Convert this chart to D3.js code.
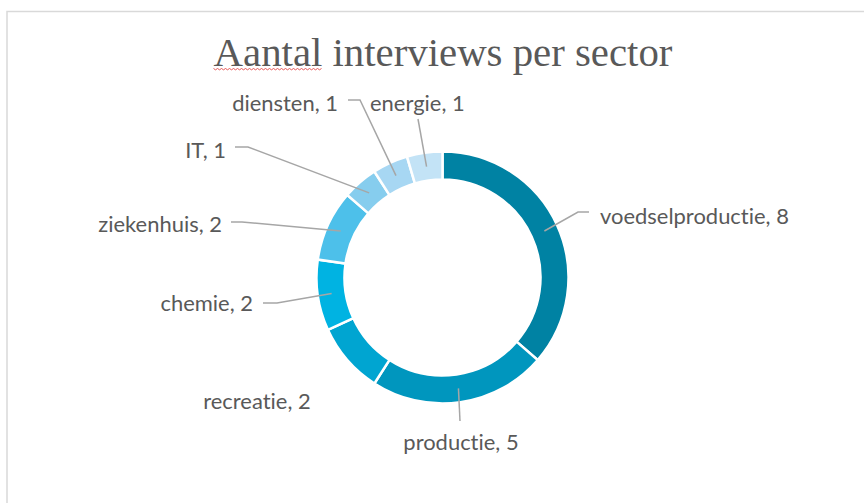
<!DOCTYPE html>
<html>
<head>
<meta charset="utf-8">
<script src="https://cdn.jsdelivr.net/npm/d3@7"></script>
<style>
  html, body { margin: 0; padding: 0; background: #fff; }
  svg { display: block; }
  text { font-variant-ligatures: none; font-feature-settings: "liga" 0, "clig" 0; }
</style>
</head>
<body>
<svg id="chart" width="864" height="503"></svg>
<script>
// Sectors, clockwise from 12 o'clock
const sectors = ["voedselproductie", "productie", "recreatie", "chemie", "ziekenhuis", "IT", "diensten", "energie"];
const interviews = [8, 5, 2, 2, 2, 1, 1, 1];
const sliceColors = ["#0082A3", "#0096BE", "#00A5D1", "#00B3E2", "#4DC0EA", "#86CDEE", "#A7D7F3", "#C3E3F6"];
const title = "Aantal interviews per sector";

// Label placement: anchor point, text anchor, leader elbow points (null = no leader)
const labelPos = [
  { x: 600, y: 216, anchor: "start",  leader: [[578, 212], [589, 212]] },
  { x: 461, y: 442, anchor: "middle", leader: [[460, 421]] },
  { x: 257, y: 401, anchor: "middle", leader: null },
  { x: 253, y: 303, anchor: "end",    leader: [[277, 303], [263, 303]] },
  { x: 222, y: 224, anchor: "end",    leader: [[242, 222], [231, 222]] },
  { x: 226, y: 150, anchor: "end",    leader: [[248, 147], [235, 147]] },
  { x: 338, y: 103, anchor: "end",    leader: [[360, 100], [348, 100]] },
  { x: 370, y: 103, anchor: "start",  leader: [[418, 119]] }
];

const svg = d3.select("#chart");
const W = 864, H = 503;

// chart area frame
svg.append("rect")
  .attr("x", 7).attr("y", 11.5)
  .attr("width", W).attr("height", H)
  .attr("fill", "#fff")
  .attr("stroke", "#D9D9D9")
  .attr("stroke-width", 1.5);

// title
const titleFont = "'Liberation Serif', 'DejaVu Serif', serif";
const titleText = svg.append("text")
  .attr("x", 443).attr("y", 66)
  .attr("text-anchor", "middle")
  .attr("font-family", titleFont)
  .attr("font-size", 34)
  .attr("fill", "#595959")
  .text(title);
// fit title width
const tw = titleText.node().getComputedTextLength();
const titleSize = 34 * 459 / tw;
titleText.attr("font-size", titleSize);

// spell-check squiggle under the first word
const firstWord = svg.append("text")
  .attr("font-family", titleFont)
  .attr("font-size", titleSize)
  .attr("visibility", "hidden")
  .text("Aantal");
const fw = firstWord.node().getComputedTextLength();
firstWord.remove();
const sqX0 = 443 - 459 / 2, sqY = 68.5;
let sq = "M" + sqX0 + "," + sqY;
for (let x = sqX0 + 2, i = 0; x <= sqX0 + fw; x += 2, i++) sq += "L" + x + "," + (sqY + (i % 2 ? 0 : 1.3));
svg.append("path").attr("d", sq).attr("fill", "none").attr("stroke", "#E03C3C").attr("stroke-width", 1).attr("opacity", 0.85);

// donut
const cx = 442.5, cy = 277.5, rOuter = 126, rInner = 98;
const g = svg.append("g").attr("transform", `translate(${cx},${cy})`);

const data = sectors.map((s, i) => ({ sector: s, value: interviews[i], color: sliceColors[i], pos: labelPos[i] }));
const pie = d3.pie().value(d => d.value).sort(null);
const arc = d3.arc().innerRadius(rInner).outerRadius(rOuter);
const midArc = d3.arc().innerRadius((rInner + rOuter) / 2).outerRadius((rInner + rOuter) / 2);
const arcs = pie(data);

g.selectAll("path.slice")
  .data(arcs)
  .join("path")
  .attr("class", "slice")
  .attr("d", arc)
  .attr("fill", d => d.data.color)
  .attr("stroke", "#fff")
  .attr("stroke-width", 2.5)
  .attr("stroke-linejoin", "miter");

// leader lines
const line = d3.line();
svg.selectAll("path.leader")
  .data(arcs.filter(d => d.data.pos.leader))
  .join("path")
  .attr("class", "leader")
  .attr("d", d => {
    const c = midArc.centroid(d);
    return line([[cx + c[0], cy + c[1]], ...d.data.pos.leader]);
  })
  .attr("fill", "none")
  .attr("stroke", "#A6A6A6")
  .attr("stroke-width", 1.5);

// data labels
const labelFont = "'Lato', 'Open Sans', sans-serif";
const labels = svg.selectAll("text.lbl")
  .data(arcs)
  .join("text")
  .attr("class", "lbl")
  .attr("x", d => d.data.pos.x)
  .attr("y", d => d.data.pos.y)
  .attr("dy", "0.35em")
  .attr("text-anchor", d => d.data.pos.anchor)
  .attr("font-family", labelFont)
  .attr("font-size", 18)
  .attr("fill", "#595959")
  .text(d => `${d.data.sector}, ${d.data.value}`);
// scale label font so the longest label spans its measured width
const longest = labels.filter(d => d.data.sector === "voedselproductie").node().getComputedTextLength();
labels.attr("font-size", 18 * 189 / longest);
</script>
</body>
</html>
